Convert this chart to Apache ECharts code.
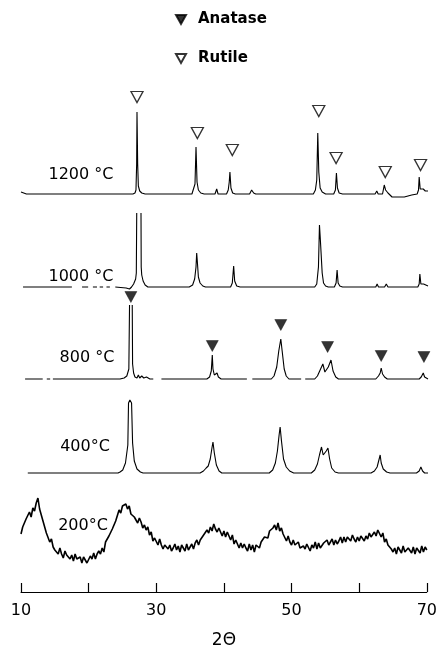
<!DOCTYPE html>
<html>
<head>
<meta charset="utf-8">
<script src="https://cdn.jsdelivr.net/npm/echarts@6/dist/echarts.min.js"></script>
<style>
html,body{margin:0;padding:0;background:#fff;}
#chart{width:440px;height:654px;}
</style>
</head>
<body>
<div id="chart"></div>
<script>
// ---- DATA (2θ in degrees, intensity as relative height above each trace's baseline) ----
const xTicks = [10, 20, 30, 40, 50, 60, 70];
const xTickLabels = ['10', '', '30', '', '50', '', '70'];
const legendNames = ['Anatase', 'Rutile'];
const traceLabels = ['1200 °C', '1000 °C', '800 °C', '400°C', '200°C'];

const pattern1200 = [
  [10.0,2],[10.8,0],[26.5,0],[26.8,1],[26.95,4],[27.05,30],[27.1,82],[27.2,30],[27.3,8],[27.5,3],[27.8,1],[28.3,0],
  [35.2,0],[35.45,2],[35.65,10],[35.8,47],[35.95,12],[36.15,4],[36.5,1],[37.0,0],
  [38.6,0],[38.85,5],[39.05,0],
  [40.3,0],[40.55,4],[40.7,12],[40.8,22],[40.95,6],[41.2,1],[41.6,0],
  [43.7,0],[44.0,4],[44.3,1],[44.6,0],
  [53.1,0],[53.4,4],[53.6,14],[53.75,61],[53.9,22],[54.1,6],[54.4,2],[54.9,0],
  [56.1,0],[56.35,4],[56.5,21],[56.65,6],[56.9,1],[57.4,0],
  [62.2,0],[62.45,3],[62.65,0],[63.3,0],[63.55,9],[63.75,4],[64.1,1],[64.7,-3],[66.5,-3],[67.6,-1],[68.4,0],[68.6,4],[68.7,17],[68.85,5],[69.1,4],[69.3,5],[69.6,3],[70,3]
];

const pattern1000 = [
  [10.3,0],[17.5,0],[17.6,null],[19.0,0],[19.9,0],[20.0,null],[20.6,0],[21.2,0],[21.3,null],[21.6,0],[22.1,0],[22.2,null],
  [22.6,0],[23.1,0],[23.2,null],[23.9,0],[25.5,-1],[26.0,-2],[26.3,0],[26.6,3],[26.9,8],[27.0,14],[27.06,74],[27.3,null],
  [27.69,74],[27.72,20],[27.8,12],[28.0,6],[28.3,2],[28.7,0],
  [34.8,0],[35.3,2],[35.6,8],[35.8,20],[35.9,34],[36.0,25],[36.15,10],[36.4,4],[36.8,1],[37.2,0],
  [39.2,0],[39.4,2],[39.6,0],
  [40.9,0],[41.15,4],[41.35,21],[41.5,6],[41.8,1],[42.3,0],
  [53.3,0],[53.6,3],[53.85,20],[54.0,62],[54.15,45],[54.4,14],[54.6,4],[54.9,1],[55.3,0],
  [56.2,0],[56.45,4],[56.6,17],[56.75,4],[57.0,1],[57.4,0],
  [62.3,0],[62.5,3],[62.7,0],[63.6,0],[63.85,3],[64.1,0],[68.5,0],[68.7,3],[68.8,13],[68.95,3],[69.2,2],[69.35,3],[69.6,1],[70,1]
];

const pattern800 = [
  [10.6,0],[13.2,0],[13.3,null],[13.8,0],[14.3,0],[14.4,null],[14.7,0],[24.6,0],[25.2,1],[25.6,3],[25.9,10],[26.0,74],[26.2,null],
  [26.4,74],[26.45,15],[26.6,6],[26.8,2],[27.1,1],[27.3,4],[27.5,1],[27.8,3],[28.1,1],[28.5,2],[29.0,0],[29.5,0],[29.6,null],[30.7,0],
  [37.4,0],[37.8,2],[38.05,8],[38.2,24],[38.3,10],[38.5,4],[38.9,6],[39.1,2],[39.5,0],[43.3,0],[43.4,null],[44.1,0],
  [46.9,0],[47.3,3],[47.7,12],[48.0,28],[48.3,40],[48.5,28],[48.8,10],[49.1,3],[49.5,0],[51.3,0],[51.4,null],[51.9,0],
  [53.3,0],[53.7,3],[54.1,9],[54.5,15],[54.8,7],[55.0,5],[55.3,12],[55.7,19],[56.0,8],[56.4,2],[56.8,0],
  [62.3,0],[62.7,3],[62.95,6],[63.1,11],[63.3,5],[63.6,2],[64.0,0],
  [68.7,0],[69.0,2],[69.3,6],[69.5,2],[69.7,0],[70,0]
];

const pattern400 = [
  [11.0,0],[24.3,0],[24.6,1],[25.0,3],[25.4,10],[25.75,28],[25.85,70],[26.05,73],[26.3,70],[26.45,30],[26.7,12],[27.1,4],[27.6,1],[28.0,0],
  [36.4,0],[36.9,2],[37.3,5],[37.6,7],[37.9,14],[38.15,25],[38.3,31],[38.5,20],[38.8,8],[39.2,2],[39.6,0],
  [46.6,0],[47.1,3],[47.5,10],[47.8,22],[48.05,38],[48.2,46],[48.4,32],[48.7,14],[49.1,6],[49.6,2],[50.2,0],
  [52.8,0],[53.3,3],[53.7,9],[54.0,18],[54.3,26],[54.55,18],[54.75,17],[55.0,22],[55.25,25],[55.5,14],[55.8,5],[56.3,1],[56.8,0],
  [61.6,0],[62.1,2],[62.5,6],[62.8,14],[62.95,18],[63.1,10],[63.4,4],[63.9,1],[64.4,0],
  [68.3,0],[68.7,2],[68.95,6],[69.2,2],[69.5,0],[70,0]
];

// 200 °C scan: step 0.25° from 10°
const scan200Start = 10;
const scan200Step = 0.25;
const scan200 = [
  58,65,63,73, 72,80,75,84, 81,89,94,83, 82,71,71,59, 59,50,53,45, 42,43,38,44, 38,34,41,37, 39,33,37,31,
  38,33,31,35, 29,35,32,29, 30,36,33,39, 33,38,41,38, 44,40,50,49, 56,55,63,63, 71,71,82,79, 86,84,88,83,
  86,78,80,75, 77,69,74,70, 64,67,62,65, 57,60,51,54, 54,47,53,47, 43,47,48,43, 47,41,44,48, 42,46,40,47,
  45,41,48,42, 43,48,43,49, 52,47,52,50, 57,56,62,59, 65,61,68,63, 60,64,62,56, 61,55,60,56, 52,57,48,52,
  50,44,49,44, 48,44,41,48, 42,47,40,47, 47,44,50,48, 55,53,54,61, 59,64,67,62, 69,61,64,58, 59,51,56,50,
  47,52,47,49, 50,44,42,46, 43,48,46,41, 47,44,50,43, 49,44,44,49, 47,52,47,50, 53,47,52,48, 51,55,49,55,
  50,55,57,51, 57,53,50,55, 51,56,54,51, 56,53,59,55, 53,60,56,62, 60,55,59,50, 53,47,49,43, 40,44,38,45,
  43,39,46,40, 38,44,43,39, 45,38,44,45, 39,46,40,45, 42
];

const rutileMarkers = [[27.1,97],[36.0,61],[41.15,44],[53.9,83],[56.45,36],[63.7,22],[68.9,29]];
const anataseMarkers = [[26.2,82],[38.2,33],[48.3,54],[55.2,32],[63.1,23],[69.4,22]];

// ---- BUILD ----
const scan200Data = scan200.map((v, i) => [scan200Start + i * scan200Step, v]);

const chart = echarts.init(document.getElementById('chart'), null, {renderer: 'canvas'});
const gridTops = [94, 187, 279, 373, 492];
const grids = gridTops.map(t => ({left: 21, width: 407, top: t, height: 100, containLabel: false}));
const xAxes = gridTops.map((t, i) => ({
  type: 'value', gridIndex: i, min: 10, max: 70, interval: 10,
  show: i === 4,
  axisLine: {show: true, lineStyle: {color: '#000', width: 1}},
  axisTick: {show: true, inside: true, length: 9, lineStyle: {color: '#000', width: 1.2}},
  axisLabel: {
    show: true, margin: 11, color: '#000', fontSize: 16, fontFamily: 'DejaVu Sans',
    formatter: v => { const k = xTicks.indexOf(v); return k >= 0 ? xTickLabels[k] : ''; }
  },
  splitLine: {show: false},
  name: i === 4 ? '2Θ' : '', nameLocation: 'middle', nameGap: 40,
  nameTextStyle: {color: '#000', fontSize: 17, fontFamily: 'DejaVu Sans'}
}));
const yAxes = gridTops.map((t, i) => ({type: 'value', gridIndex: i, min: 0, max: 100, show: false}));

const lineStyleBase = {color: '#000', width: 1.1};
function lineSeries(name, data, gi, w) {
  return {
    name, type: 'line', xAxisIndex: gi, yAxisIndex: gi, data,
    showSymbol: false, symbol: 'none', clip: false, connectNulls: false,
    lineStyle: Object.assign({}, lineStyleBase, w ? {width: w} : {}),
    animation: false, silent: true
  };
}
const triPath = 'path://M0,0L10,0L5,9Z';

const option = {
  backgroundColor: '#fff',
  animation: false,
  grid: grids,
  xAxis: xAxes,
  yAxis: yAxes,
  legend: {
    data: legendNames,
    orient: 'vertical', left: 170, top: 7, itemGap: 24,
    itemWidth: 10, itemHeight: 9,
    textStyle: {color: '#000', fontSize: 15, fontWeight: 'bold', fontFamily: 'DejaVu Sans', padding: [0, 0, 0, 7]},
    selectedMode: false
  },
  series: [
    lineSeries('1200', pattern1200, 0),
    lineSeries('1000', pattern1000, 1),
    lineSeries('800', pattern800, 2),
    lineSeries('400', pattern400, 3),
    lineSeries('200', scan200Data, 4, 1.6),
    {
      name: legendNames[1], type: 'scatter', xAxisIndex: 0, yAxisIndex: 0, data: rutileMarkers,
      symbol: triPath, symbolSize: [12, 11], clip: false,
      itemStyle: {color: '#fff', borderColor: '#000', borderWidth: 1.3}
    },
    {
      name: legendNames[0], type: 'scatter', xAxisIndex: 2, yAxisIndex: 2, data: anataseMarkers,
      symbol: triPath, symbolSize: [12, 11], clip: false,
      itemStyle: {color: '#000', borderColor: '#000', borderWidth: 0.5}
    }
  ],
  graphic: [
    {x: 81, y: 175, text: traceLabels[0]},
    {x: 81, y: 277, text: traceLabels[1]},
    {x: 87, y: 358, text: traceLabels[2]},
    {x: 85, y: 447, text: traceLabels[3]},
    {x: 83, y: 526, text: traceLabels[4]}
  ].map(o => ({
    type: 'text', x: o.x, y: o.y, z: 100,
    style: {text: o.text, fill: '#000', font: '16px "DejaVu Sans"', align: 'center', verticalAlign: 'middle',
            textAlign: 'center', textVerticalAlign: 'middle'}
  }))
};
chart.setOption(option);
</script>
</body>
</html>
